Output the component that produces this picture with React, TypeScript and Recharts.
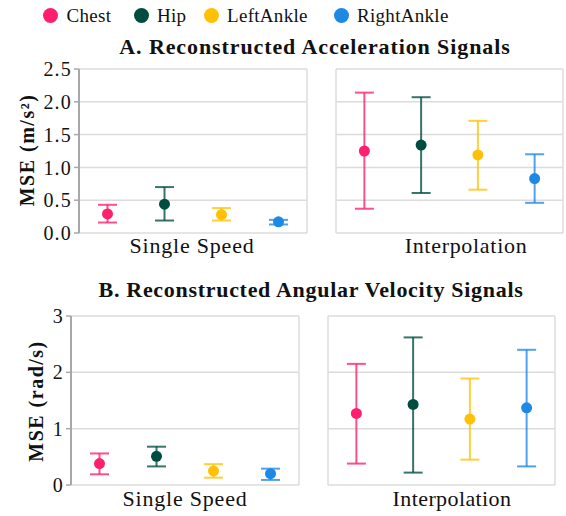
import React from "react";
import {
  ScatterChart,
  Scatter,
  XAxis,
  YAxis,
  CartesianGrid,
  ErrorBar,
} from "recharts";

// Sensor placements and their colours
const sensors = ["Chest", "Hip", "LeftAnkle", "RightAnkle"];
const colors = ["#FF1F6E", "#004D40", "#FFC107", "#1E88E5"];

// Acceleration MSE (m/s²): mean, lower and upper bound per sensor
const accSingleMean = [0.29, 0.44, 0.28, 0.17];
const accSingleLow = [0.16, 0.19, 0.19, 0.13];
const accSingleHigh = [0.43, 0.7, 0.38, 0.2];
const accInterpMean = [1.25, 1.34, 1.19, 0.83];
const accInterpLow = [0.37, 0.61, 0.66, 0.46];
const accInterpHigh = [2.14, 2.07, 1.71, 1.2];

// Angular velocity MSE (rad/s)
const gyrSingleMean = [0.38, 0.51, 0.25, 0.2];
const gyrSingleLow = [0.19, 0.33, 0.13, 0.09];
const gyrSingleHigh = [0.56, 0.68, 0.37, 0.29];
const gyrInterpMean = [1.27, 1.43, 1.17, 1.37];
const gyrInterpLow = [0.38, 0.22, 0.45, 0.33];
const gyrInterpHigh = [2.15, 2.62, 1.89, 2.4];

const accTicks = [0, 0.5, 1, 1.5, 2, 2.5];
const gyrTicks = [0, 1, 2, 3];

const SERIF = '"Liberation Serif", serif';
const GRID = "#dcdcdc";
const AXIS = "#a8a8a8";

type PanelProps = {
  left: number;
  top: number;
  width: number;
  height: number;
  marginLeft: number;
  showAxis: boolean;
  mean: number[];
  low: number[];
  high: number[];
  ticks: number[];
  tickFmt: (v: number) => string;
};

function pointsFor(i: number, mean: number[], low: number[], high: number[]) {
  return [
    {
      x: i,
      y: mean[i],
      err: [mean[i] - low[i], high[i] - mean[i]],
    },
  ];
}

function Panel(p: PanelProps) {
  const yMax = p.ticks[p.ticks.length - 1];
  const axisW = p.showAxis ? 50 : 0;
  return (
    <div style={{ position: "absolute", left: p.left, top: p.top }}>
      <ScatterChart
        width={p.width}
        height={p.height}
        margin={{ top: 10, right: 3, bottom: 10, left: p.marginLeft - axisW }}
        style={{ fontFamily: SERIF }}
      >
        <CartesianGrid
          stroke={GRID}
          strokeWidth={1.5}
          verticalCoordinatesGenerator={({ offset }: any) => [
            offset.left,
            offset.left + offset.width,
          ]}
        />
        <XAxis type="number" dataKey="x" domain={[-0.5, 3.5]} hide />
        <YAxis
          type="number"
          dataKey="y"
          domain={[0, yMax]}
          ticks={p.ticks}
          hide={!p.showAxis}
          width={axisW}
          tickFormatter={p.tickFmt}
          axisLine={{ stroke: AXIS, strokeWidth: 2 }}
          tickLine={{ stroke: AXIS, strokeWidth: 1.5 }}
          tickSize={5}
          tick={{
            fill: "#111",
            fontSize: 20,
            fontFamily: SERIF,
            style: { letterSpacing: "1.2px" },
          }}
          interval={0}
        />
        {sensors.map((name, i) => (
          <Scatter
            key={name}
            name={name}
            data={pointsFor(i, p.mean, p.low, p.high)}
            isAnimationActive={false}
            shape={(s: any) => (
              <circle cx={s.cx} cy={s.cy} r={5.5} fill={colors[i]} />
            )}
          >
            <ErrorBar
              dataKey="err"
              direction="y"
              width={9.5}
              stroke={colors[i]}
              strokeOpacity={0.78}
              strokeWidth={2}
              isAnimationActive={false}
            />
          </Scatter>
        ))}
      </ScatterChart>
    </div>
  );
}

const textBase: React.CSSProperties = {
  position: "absolute",
  fontFamily: SERIF,
  color: "#111",
  whiteSpace: "nowrap",
  lineHeight: 1,
};

function Centered({
  x,
  y,
  size,
  bold,
  children,
  spacing = 0,
}: {
  x: number;
  y: number;
  size: number;
  bold?: boolean;
  children: React.ReactNode;
  spacing?: number;
}) {
  return (
    <div
      style={{
        ...textBase,
        left: x,
        top: y,
        fontSize: size,
        fontWeight: bold ? 700 : 400,
        letterSpacing: spacing,
        transform: "translate(-50%, -50%)",
      }}
    >
      {children}
    </div>
  );
}

function YLabel({ x, y, children }: { x: number; y: number; children: React.ReactNode }) {
  return (
    <div
      style={{
        ...textBase,
        left: x,
        top: y,
        fontSize: 20,
        fontWeight: 700,
        letterSpacing: 1.5,
        transform: "translate(-50%, -50%) rotate(-90deg)",
      }}
    >
      {children}
    </div>
  );
}

const legendX = [50.5, 141, 211, 341];

export default function App() {
  const oneDec = (v: number) => v.toFixed(1);
  const whole = (v: number) => String(v);
  return (
    <div
      style={{
        position: "absolute",
        left: 0,
        top: 0,
        width: 566,
        height: 516,
        background: "#fff",
        overflow: "hidden",
        fontFamily: SERIF,
      }}
    >
      {/* legend */}
      {sensors.map((name, i) => (
        <div
          key={name}
          style={{
            position: "absolute",
            left: legendX[i] - 7.5,
            top: 6,
            display: "flex",
            alignItems: "center",
          }}
        >
          <svg width={15} height={15}>
            <circle cx={7.5} cy={7.5} r={7.5} fill={colors[i]} />
          </svg>
          <span
            style={{
              fontFamily: SERIF,
              fontSize: 19,
              letterSpacing: 0.3,
              marginLeft: 8.5,
              color: "#111",
              lineHeight: 1,
            }}
          >
            {name}
          </span>
        </div>
      ))}

      <Centered x={315} y={47} size={22} bold spacing={0.9}>
        A. Reconstructed Acceleration Signals
      </Centered>
      <Centered x={311} y={290} size={22} bold spacing={0.7}>
        B. Reconstructed Angular Velocity Signals
      </Centered>

      <YLabel x={27} y={150}>MSE (m/s²)</YLabel>
      <YLabel x={36} y={401}>MSE (rad/s)</YLabel>

      <Panel
        left={0}
        top={59}
        width={310}
        height={184}
        marginLeft={79}
        showAxis
        mean={accSingleMean}
        low={accSingleLow}
        high={accSingleHigh}
        ticks={accTicks}
        tickFmt={oneDec}
      />
      <Panel
        left={300}
        top={59}
        width={266}
        height={184}
        marginLeft={36}
        showAxis={false}
        mean={accInterpMean}
        low={accInterpLow}
        high={accInterpHigh}
        ticks={accTicks}
        tickFmt={oneDec}
      />
      <Panel
        left={0}
        top={306}
        width={302}
        height={189}
        marginLeft={71}
        showAxis
        mean={gyrSingleMean}
        low={gyrSingleLow}
        high={gyrSingleHigh}
        ticks={gyrTicks}
        tickFmt={whole}
      />
      <Panel
        left={300}
        top={306}
        width={258}
        height={189}
        marginLeft={28}
        showAxis={false}
        mean={gyrInterpMean}
        low={gyrInterpLow}
        high={gyrInterpHigh}
        ticks={gyrTicks}
        tickFmt={whole}
      />

      <Centered x={192} y={246} size={22} spacing={0.8}>Single Speed</Centered>
      <Centered x={466} y={246} size={22} spacing={0.7}>Interpolation</Centered>
      <Centered x={185} y={499} size={22} spacing={0.8}>Single Speed</Centered>
      <Centered x={452} y={499} size={22} spacing={0.4}>Interpolation</Centered>
    </div>
  );
}
